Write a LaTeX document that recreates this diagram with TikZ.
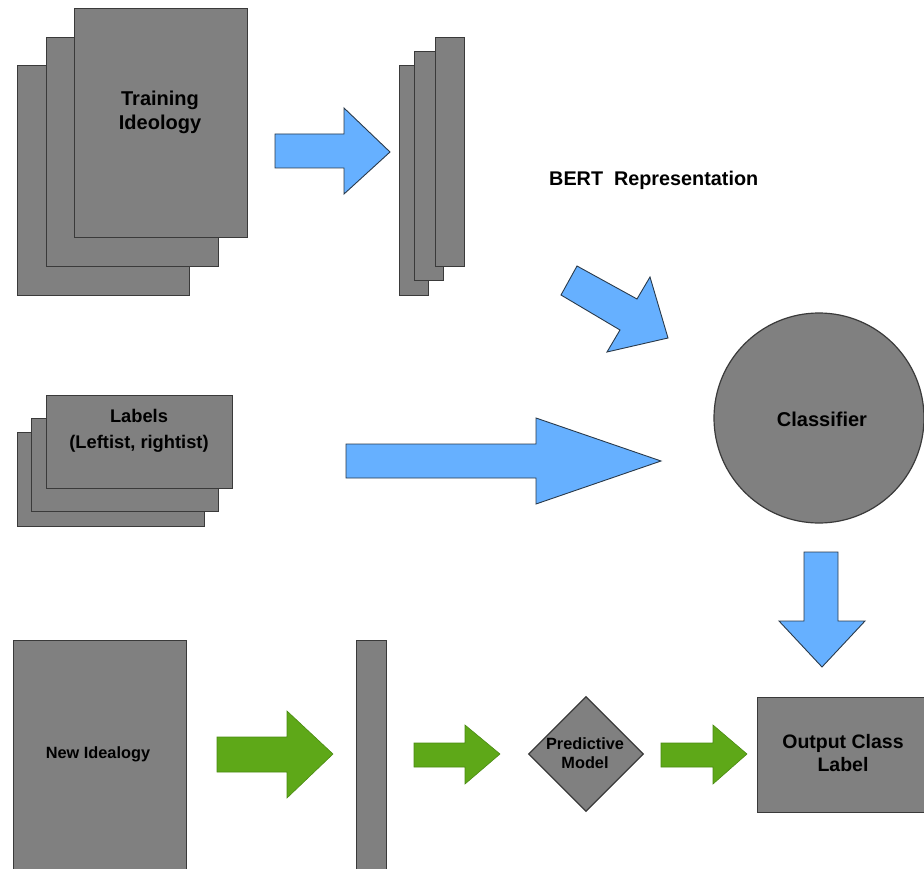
\documentclass[tikz,border=0pt]{standalone}
\usepackage{fontspec}
\setmainfont{Liberation Sans}
\usetikzlibrary{shapes.geometric}
\definecolor{boxgray}{HTML}{808080}
\definecolor{boxedge}{HTML}{3A3A3A}
\definecolor{arrblue}{HTML}{66B0FF}
\definecolor{arredge}{HTML}{2A3A4A}
\definecolor{arrgreen}{HTML}{5EA818}
\definecolor{greenedge}{HTML}{4A8A12}
\tikzset{
  doc/.style={draw=boxedge, fill=boxgray, line width=1.2pt, rectangle, inner sep=0pt, anchor=north west},
  txt/.style={font=\bfseries, align=center, text=black, inner sep=0pt},
  bluearrow/.style={draw=arredge, fill=arrblue, line width=0.9pt, line join=miter},
  greenarrow/.style={draw=greenedge, fill=arrgreen, line width=0.6pt, line join=miter},
}
\begin{document}
\begin{tikzpicture}[x=1pt,y=-1pt]
\useasboundingbox (0,0) rectangle (924,869);
% Training ideology stack
\node[doc, minimum width=172pt, minimum height=230pt] (tr1) at (17,65) {};
\node[doc, minimum width=172pt, minimum height=229pt] (tr2) at (46,37) {};
\node[doc, minimum width=173pt, minimum height=229pt] (tr3) at (74,8) {};
\node[txt, font=\bfseries\fontsize{20}{24}\selectfont] (trtxt) at (160,112) {Training\\Ideology};
% BERT stack
\node[doc, minimum width=29pt, minimum height=230pt] (b1) at (399,65) {};
\node[doc, minimum width=29pt, minimum height=229pt] (b2) at (414,51) {};
\node[doc, minimum width=29pt, minimum height=229pt] (b3) at (435,37) {};
\node[txt, font=\bfseries\fontsize{19.8}{23}\selectfont, anchor=west] (bert) at (549,180) {BERT\ \ Representation};
% arrow training -> bert
\draw[bluearrow] (275,134) -- (344,134) -- (344,108) -- (390,152) -- (344,194) -- (344,168) -- (275,168) -- cycle;
% diagonal arrow
\draw[bluearrow] (577,266) -- (637,299) -- (650,277) -- (668,338) -- (607,352) -- (620,330) -- (561,295) -- cycle;
% Labels stack
\node[doc, minimum width=187pt, minimum height=94pt] (l1) at (17,432) {};
\node[doc, minimum width=187pt, minimum height=93pt] (l2) at (31,418) {};
\node[doc, minimum width=186pt, minimum height=93pt] (l3) at (46,395) {};
\node[txt, font=\bfseries\fontsize{18.3}{26}\selectfont] (ltxt) at (139,431) {Labels\\(Leftist, rightist)};
% big arrow labels -> classifier
\draw[bluearrow] (346,444) -- (536,444) -- (536,418) -- (661,461) -- (536,504) -- (536,478) -- (346,478) -- cycle;
% Classifier
\node[draw=boxedge, fill=boxgray, line width=1.2pt, circle, minimum size=210pt, inner sep=0pt] (cls) at (819,418) {};
\node[txt, font=\bfseries\fontsize{20}{24}\selectfont] (clstxt) at (822,419) {Classifier};
% down arrow
\draw[bluearrow] (804,552) -- (838,552) -- (838,621) -- (865,621) -- (822,667) -- (779,621) -- (804,621) -- cycle;
% New ideology
\node[doc, minimum width=173pt, minimum height=232pt] (ni) at (13,640) {};
\node[txt, font=\bfseries\fontsize{16.3}{18}\selectfont] (nitxt) at (98,754) {New Idealogy};
\node[doc, minimum width=30pt, minimum height=232pt] (bar) at (356,640) {};
% green arrows
\draw[greenarrow] (217,737) -- (287,737) -- (287,711) -- (333,754) -- (287,798) -- (287,772) -- (217,772) -- cycle;
\draw[greenarrow] (414,743) -- (465,743) -- (465,725) -- (500,754) -- (465,784) -- (465,767) -- (414,767) -- cycle;
\draw[greenarrow] (661,743) -- (713,743) -- (713,725) -- (747,754) -- (713,784) -- (713,767) -- (661,767) -- cycle;
% Predictive model
\node[draw=boxedge, fill=boxgray, line width=1.2pt, diamond, aspect=1, minimum width=115pt, minimum height=115pt, inner sep=0pt] (pm) at (586,754) {};
\node[txt, font=\bfseries\fontsize{16.3}{19}\selectfont] (pmtxt) at (585,753) {Predictive\\Model};
% Output
\node[doc, minimum width=168pt, minimum height=115pt] (out) at (757,697) {};
\node[txt, font=\bfseries\fontsize{19.5}{23}\selectfont] (outtxt) at (843,753.5) {Output Class\\Label};
\end{tikzpicture}
\end{document}
